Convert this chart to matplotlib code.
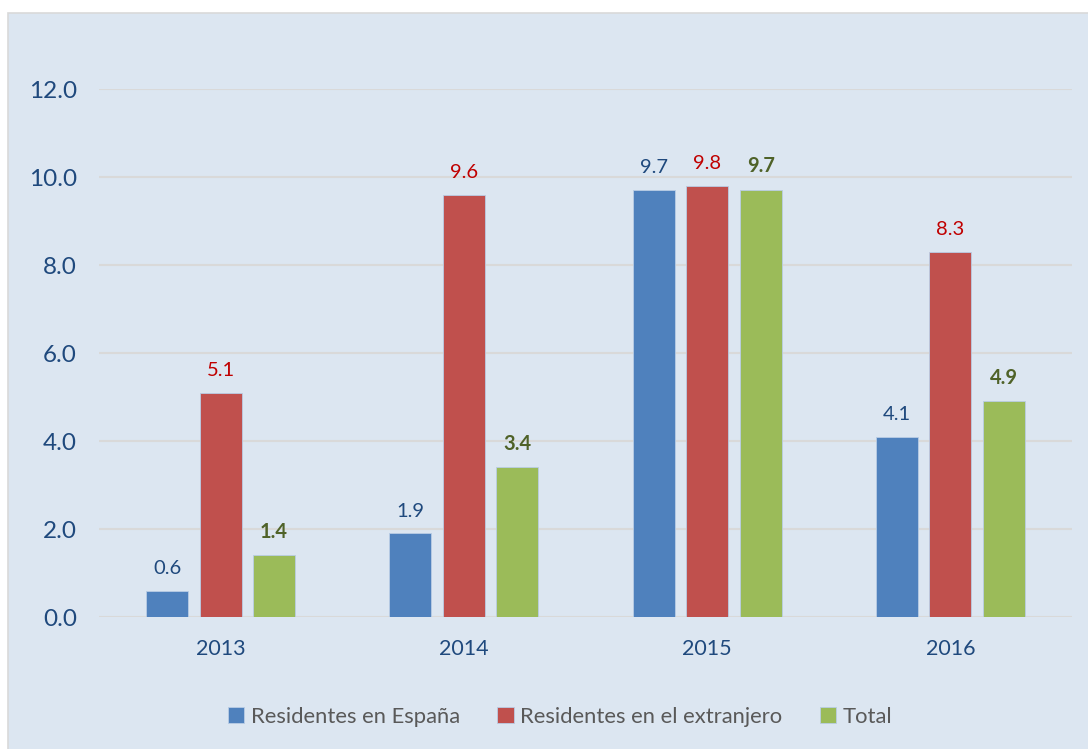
import numpy as np
import matplotlib
matplotlib.use('Agg')
import matplotlib.pyplot as plt
from matplotlib.patches import Rectangle

years = ['2013', '2014', '2015', '2016']
espana = [0.6, 1.9, 9.7, 4.1]
extranjero = [5.1, 9.6, 9.8, 8.3]
total = [1.4, 3.4, 9.7, 4.9]
series_names = ['Residentes en España', 'Residentes en el extranjero', 'Total']
y_ticks = [0, 2, 4, 6, 8, 10, 12]

plt.rcParams['font.family'] = ['Lato', 'DejaVu Sans']

bg = '#DCE6F1'
bar_colors = ['#4F81BD', '#C0504D', '#9BBB59']
label_colors = ['#1F497D', '#C00000', '#4F6228']
label_weights = ['normal', 'normal', 'bold']
tick_color = '#1F497D'

fig = plt.figure(figsize=(10.88, 7.49), dpi=100)
fig.patch.set_facecolor('white')
# chart area background with light border
fig.patches.append(Rectangle((8 / 1088, -0.01), 1.02, 1 - 13 / 749 + 0.01,
                             transform=fig.transFigure, facecolor=bg,
                             edgecolor='#D9D9D9', lw=1.2, zorder=-10))

ax = fig.add_axes([99 / 1088, 1 - 617 / 749, (1072 - 99) / 1088, (617 - 89) / 749])
ax.patch.set_alpha(0)

x = np.arange(len(years))
width = 0.173
step = 0.22
data = [espana, extranjero, total]
for i, vals in enumerate(data):
    pos = x + (i - 1) * step
    ax.bar(pos, vals, width, color=bar_colors[i], edgecolor='#B9CDE5', lw=0.6,
           label=series_names[i], zorder=3)
    for px, v in zip(pos, vals):
        ax.annotate(f'{v:.1f}', (px, v), xytext=(0, 10), textcoords='offset points',
                    ha='center', va='bottom', fontsize=14.5, color=label_colors[i],
                    fontweight=label_weights[i])

ax.set_xlim(-0.5, len(years) - 0.5)
ax.set_ylim(0, 12)
ax.set_yticks(y_ticks)
ax.set_yticklabels([f'{t:.1f}' for t in y_ticks])
ax.set_xticks(x)
ax.set_xticklabels(years)
ax.tick_params(axis='y', length=0, pad=16, labelsize=17.5, labelcolor=tick_color)
ax.tick_params(axis='x', length=0, pad=16, labelsize=15.5, labelcolor=tick_color)
ax.grid(axis='y', color='#D9D9D9', lw=1.5, zorder=0)
for s in ax.spines.values():
    s.set_visible(False)

leg = fig.legend(loc='center', bbox_to_anchor=(560 / 1088, 1 - 717 / 749), ncol=3,
                 frameon=False, fontsize=15.8, handlelength=0.75, handleheight=0.75,
                 handletextpad=0.3, columnspacing=1.7)
for t in leg.get_texts():
    t.set_color('#595959')

fig.savefig('out.png', dpi=100, facecolor=fig.get_facecolor())
